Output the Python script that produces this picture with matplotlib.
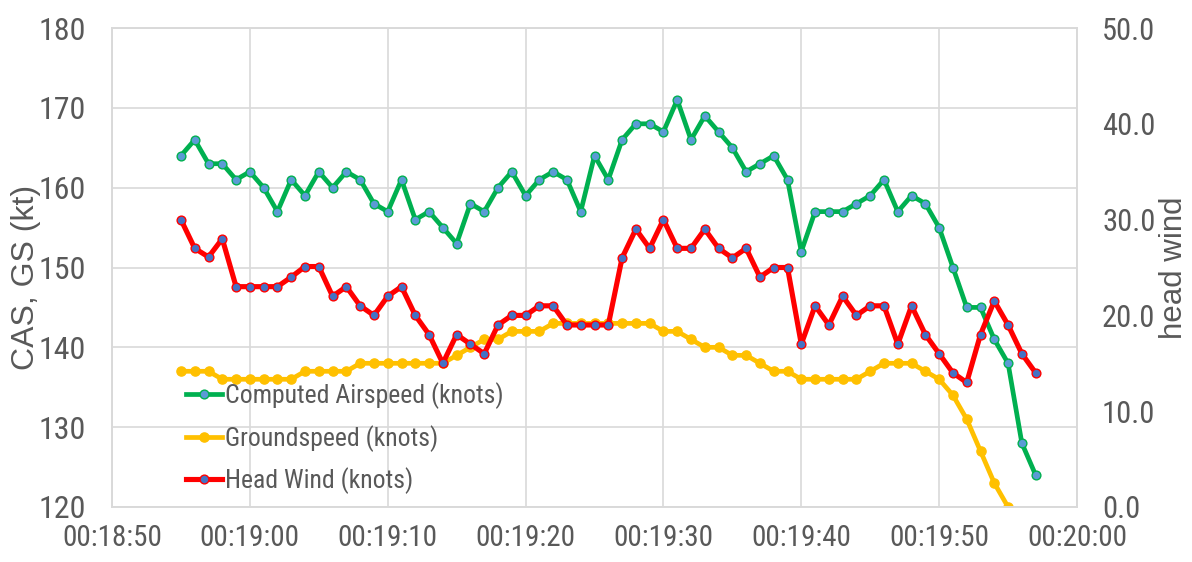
import matplotlib
matplotlib.use("Agg")
import matplotlib.pyplot as plt
import matplotlib.dates as mdates
from matplotlib.ticker import FormatStrFormatter
import pandas as pd

# --- data -----------------------------------------------------------------
cas_start = "2000-01-01 00:18:55"
computed_airspeed = [
    164, 166, 163, 163, 161,
    162, 160, 157, 161, 159, 162, 160, 162, 161, 158,
    157, 161, 156, 157, 155, 153, 158, 157, 160, 162,
    159, 161, 162, 161, 157, 164, 161, 166, 168, 168,
    167, 171, 166, 169, 167, 165, 162, 163, 164, 161,
    152, 157, 157, 157, 158, 159, 161, 157, 159, 158,
    155, 150, 145, 145, 141, 138, 128, 124,
]
groundspeed = [
    137, 137, 137, 136, 136,
    136, 136, 136, 136, 137, 137, 137, 137, 138, 138,
    138, 138, 138, 138, 138, 139, 140, 141, 141, 142,
    142, 142, 143, 143, 143, 143, 143, 143, 143, 143,
    142, 142, 141, 140, 140, 139, 139, 138, 137, 137,
    136, 136, 136, 136, 136, 137, 138, 138, 138, 137,
    136, 134, 131, 127, 123, 120,
]
head_wind = [
    30.0, 27.0, 26.1, 28.0, 23.0,
    23.0, 23.0, 23.0, 24.0, 25.1, 25.1, 22.0, 23.0, 21.0, 20.0,
    22.0, 23.0, 20.0, 18.0, 15.0, 18.0, 17.0, 16.0, 19.0, 20.0,
    20.0, 21.0, 21.0, 19.0, 19.0, 19.0, 19.0, 26.0, 29.0, 27.0,
    30.0, 27.0, 27.0, 29.0, 27.0, 26.0, 27.0, 24.0, 25.0, 25.0,
    17.0, 21.0, 19.0, 22.0, 20.0, 21.0, 21.0, 17.0, 21.0, 18.0,
    16.0, 14.0, 13.0, 18.0, 21.5, 19.0, 16.0, 14.0,
]
series_labels = ["Computed Airspeed (knots)", "Groundspeed (knots)", "Head Wind (knots)"]
x_start, x_end = "2000-01-01 00:18:50", "2000-01-01 00:20:00"
left_ticks = [120, 130, 140, 150, 160, 170, 180]
right_ticks = [0, 10, 20, 30, 40, 50]

t_cas = pd.date_range(cas_start, periods=len(computed_airspeed), freq="s")
t_gs = pd.date_range(cas_start, periods=len(groundspeed), freq="s")
t_hw = pd.date_range(cas_start, periods=len(head_wind), freq="s")

# --- style ----------------------------------------------------------------
plt.rcParams["font.family"] = ["Roboto Condensed", "Liberation Sans", "DejaVu Sans"]
TITLE_FONT = ["Liberation Sans", "DejaVu Sans"]

TEXT = "#595959"
GRID = "#D9D9D9"
GREEN = "#00B050"
GOLD = "#FFC000"
RED = "#FF0000"
BLUE = "#5B9BD5"
DBLUE = "#4472C4"

fig = plt.figure(figsize=(11.92, 5.62), dpi=100)
ax = fig.add_axes([112 / 1192, 1 - 507 / 562, (1077 - 112) / 1192, (507 - 28) / 562])
ax2 = ax.twinx()

l1, = ax.plot(t_cas, computed_airspeed, color=GREEN, lw=3.4, marker="o", ms=6.3,
              mfc=BLUE, mec=GREEN, mew=1.0, zorder=3)
l2, = ax.plot(t_gs, groundspeed, color=GOLD, lw=3.4, marker="o", ms=6.6,
              mfc=GOLD, mec=GOLD, mew=1.0, zorder=2)
l3, = ax2.plot(t_hw, head_wind, color=RED, lw=3.7, marker="o", ms=6.3,
               mfc=DBLUE, mec=RED, mew=1.0, zorder=3)

ax.set_xlim(pd.Timestamp(x_start), pd.Timestamp(x_end))
ax.set_xticks(pd.date_range(x_start, x_end, freq="10s"))
ax.xaxis.set_major_formatter(mdates.DateFormatter("%H:%M:%S"))
ax.set_ylim(left_ticks[0], left_ticks[-1])
ax.set_yticks(left_ticks)
ax2.set_ylim(right_ticks[0], right_ticks[-1])
ax2.set_yticks(right_ticks)
ax2.yaxis.set_major_formatter(FormatStrFormatter("%.1f"))

ax.grid(True, color=GRID, lw=1.2)
ax.set_axisbelow(True)
for a in (ax, ax2):
    for s in a.spines.values():
        s.set_color(GRID)
        s.set_linewidth(1.2)
    a.tick_params(length=0, colors=TEXT)

ax.tick_params(axis="y", labelsize=23, pad=19)
ax.tick_params(axis="x", labelsize=21, pad=12)
ax2.tick_params(axis="y", labelsize=22, pad=18)

ax.set_ylabel("CAS, GS (kt)", family=TITLE_FONT, fontsize=23, color=TEXT)
ax.yaxis.label.set_va("center")
ax.yaxis.set_label_coords(-0.089, 0.48)
ax2.set_ylabel("head wind", family=TITLE_FONT, fontsize=22.5, color=TEXT)
ax2.yaxis.label.set_va("center")
ax2.yaxis.set_label_coords(1.101, 0.5)

leg = ax2.legend([l1, l2, l3], series_labels, loc="upper left",
                 bbox_to_anchor=(186 / 1192, 1 - 382 / 562), bbox_transform=fig.transFigure,
                 frameon=False, fontsize=18.5, handlelength=1.4, handletextpad=0.1,
                 labelspacing=0.62, borderpad=0, borderaxespad=0, numpoints=1)
for txt in leg.get_texts():
    txt.set_color(TEXT)

fig.savefig("out.png", dpi=100)
